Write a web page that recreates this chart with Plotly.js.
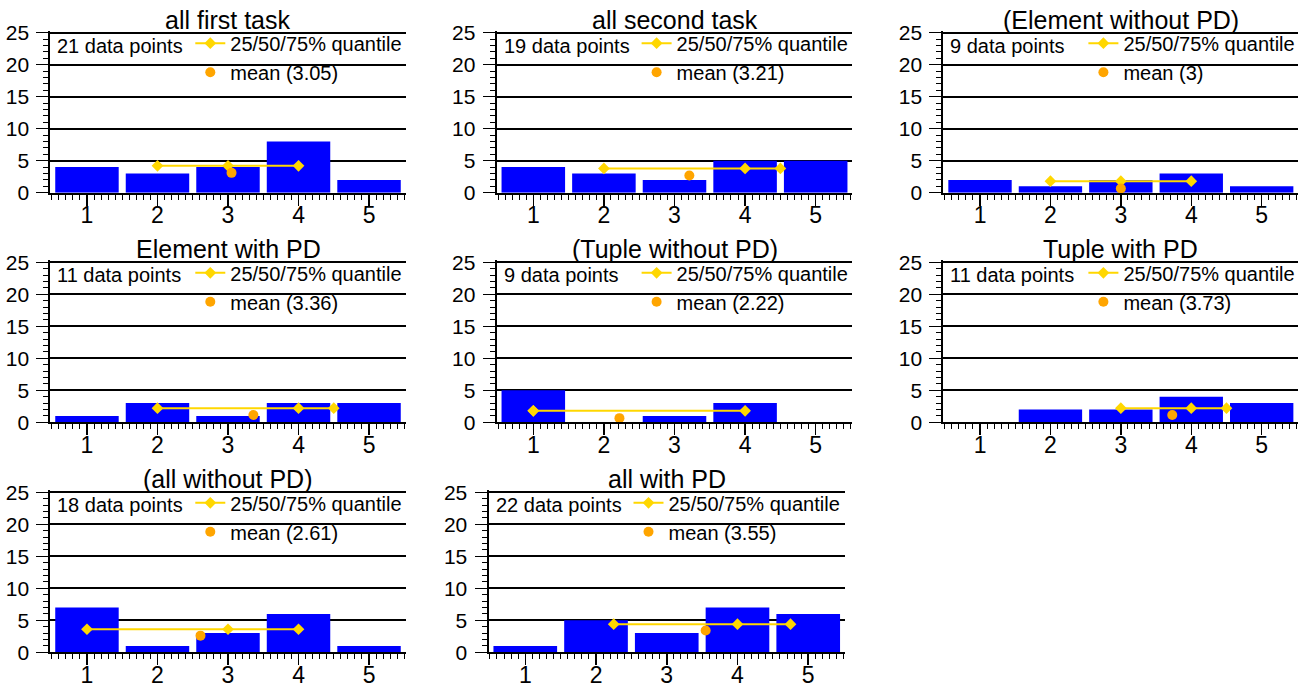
<!DOCTYPE html>
<html><head><meta charset="utf-8">
<script src="https://cdn.plot.ly/plotly-3.0.1.min.js"></script>
<style>html,body{margin:0;padding:0;background:#fff}#chart{width:1306px;height:687px}</style>
</head><body><div id="chart"></div>
<script>
// ---- data ----
const panelTitles = ['all first task','all second task','(Element without PD)','Element with PD','(Tuple without PD)','Tuple with PD','(all without PD)','all with PD'];
const dataPoints = [21, 19, 9, 11, 9, 11, 18, 22];
const scores = [1, 2, 3, 4, 5];
const countsFirstTask = [4, 3, 4, 8, 2];
const countsSecondTask = [4, 3, 2, 5, 5];
const countsElementWithoutPD = [2, 1, 2, 3, 1];
const countsElementWithPD = [1, 3, 1, 3, 3];
const countsTupleWithoutPD = [5, 0, 1, 3, 0];
const countsTupleWithPD = [0, 2, 2, 4, 3];
const countsAllWithoutPD = [7, 1, 3, 6, 1];
const countsAllWithPD = [1, 5, 3, 7, 6];
const quantileX = [[2, 3, 4], [2, 4, 4.5], [2, 3, 4], [2, 4, 4.5], [1, 1, 4], [3, 4, 4.5], [1, 3, 4], [2.25, 4, 4.75]];
const quantileY = [[4.2, 4.2, 4.2], [3.8, 3.8, 3.8], [1.8, 1.8, 1.8], [2.2, 2.2, 2.2], [1.8, 1.8, 1.8], [2.2, 2.2, 2.2], [3.6, 3.6, 3.6], [4.4, 4.4, 4.4]];
const meanX = [3.05, 3.21, 3, 3.36, 2.22, 3.73, 2.61, 3.55];
const meanY = [3.1, 2.7, 0.65, 1.15, 0.65, 1.15, 2.6, 3.4];

const allCounts = [countsFirstTask, countsSecondTask, countsElementWithoutPD, countsElementWithPD,
  countsTupleWithoutPD, countsTupleWithPD, countsAllWithoutPD, countsAllWithPD];

// ---- layout geometry (pixels) ----
const W = 1306, H = 687;
const FONT = 'Liberation Sans, Arial, sans-serif';
const Y_TOP = 25.3;           // a little headroom so the gridline at 25 is drawn
const PX_PER_UNIT = 6.4;
const colPx = [[50.3, 405.7], [496.6, 852.4], [943.4, 1298.3]];
const rowBottomPx = [192.7, 422.3, 652.3];
const panelBoxes = [
  [colPx[0], 0], [colPx[1], 0], [colPx[2], 0],
  [colPx[0], 1], [colPx[1], 1], [colPx[2], 1],
  [colPx[0], 2], [[488.5, 845], 2]
];

const traces = [];
const layout = {
  width: W, height: H,
  margin: {l: 0, r: 0, t: 0, b: 0, autoexpand: false},
  paper_bgcolor: '#fff', plot_bgcolor: 'rgba(0,0,0,0)',
  showlegend: true,
  font: {family: FONT, color: '#000'},
  annotations: []
};

panelBoxes.forEach((box, i) => {
  const s = i === 0 ? '' : String(i + 1);
  const xp = box[0];
  const bottom = rowBottomPx[box[1]];
  const top = bottom - Y_TOP * PX_PER_UNIT;
  const top25 = bottom - 25 * PX_PER_UNIT;
  const xd = [xp[0] / W, xp[1] / W];
  const yd = [1 - bottom / H, 1 - top / H];
  const legendId = 'legend' + s;

  traces.push({
    type: 'bar', x: scores, y: allCounts[i], width: 0.9,
    marker: {color: '#0000ff', line: {width: 0}},
    xaxis: 'x' + s, yaxis: 'y' + s, showlegend: false, hoverinfo: 'skip'
  });
  traces.push({
    type: 'scatter', mode: 'lines+markers', x: quantileX[i], y: quantileY[i],
    name: '25/50/75% quantile',
    line: {color: '#ffd700', width: 2},
    marker: {symbol: 'diamond', size: 9, color: '#ffd700'},
    xaxis: 'x' + s, yaxis: 'y' + s, legend: legendId, hoverinfo: 'skip', cliponaxis: false
  });
  traces.push({
    type: 'scatter', mode: 'markers', x: [meanX[i]], y: [meanY[i]],
    name: 'mean (' + meanX[i] + ')',
    marker: {symbol: 'circle', size: 10, color: '#ffa500'},
    xaxis: 'x' + s, yaxis: 'y' + s, legend: legendId, hoverinfo: 'skip', cliponaxis: false
  });

  layout['xaxis' + s] = {
    domain: xd, anchor: 'y' + s, range: [0.48, 5.52],
    tickmode: 'linear', tick0: 1, dtick: 1,
    ticks: 'outside', ticklen: 11, tickwidth: 1.5, tickcolor: '#000',
    showline: true, linecolor: '#000', linewidth: 2,
    showgrid: false, zeroline: false, fixedrange: true,
    ticklabelstandoff: -10,
    tickfont: {family: FONT, size: 23, color: '#000'},
    minor: {tick0: 0, dtick: 0.1, ticks: 'outside', ticklen: 5, tickwidth: 1, tickcolor: '#000', showgrid: false}
  };
  layout['yaxis' + s] = {
    domain: yd, anchor: 'x' + s, range: [0, Y_TOP],
    tickmode: 'linear', tick0: 0, dtick: 5,
    ticks: 'outside', ticklen: 12, tickwidth: 1.5, tickcolor: '#000',
    showline: true, linecolor: '#000', linewidth: 2,
    showgrid: true, gridcolor: '#000', gridwidth: 2,
    zeroline: false, fixedrange: true,
    ticklabelstandoff: 3,
    tickfont: {family: FONT, size: 21, color: '#000'},
    minor: {tick0: 0, dtick: 1, ticks: 'outside', ticklen: 5, tickwidth: 1, tickcolor: '#000', showgrid: false}
  };
  layout[legendId] = {
    x: (xp[0] + 140) / W, y: 1 - (top25 - 9) / H,
    xanchor: 'left', yanchor: 'top', xref: 'paper', yref: 'paper',
    bgcolor: 'rgba(0,0,0,0)', borderwidth: 0,
    font: {family: FONT, size: 20, color: '#000'},
    traceorder: 'normal', itemclick: false, itemdoubleclick: false
  };
  layout.annotations.push({
    text: panelTitles[i], xref: 'x' + s + ' domain', yref: 'paper',
    x: 0.5, y: 1 - top25 / H, xanchor: 'center', yanchor: 'bottom', yshift: -3, showarrow: false,
    font: {family: FONT, size: 25, color: '#000'}
  });
  layout.annotations.push({
    text: dataPoints[i] + ' data points', xref: 'x' + s + ' domain', yref: 'paper',
    x: 0, y: 1 - top25 / H, xanchor: 'left', yanchor: 'middle', xshift: 5, yshift: -13, showarrow: false,
    font: {family: FONT, size: 20, color: '#000'}
  });
});

Plotly.newPlot('chart', traces, layout, {staticPlot: true, displayModeBar: false});
</script>
</body></html>
